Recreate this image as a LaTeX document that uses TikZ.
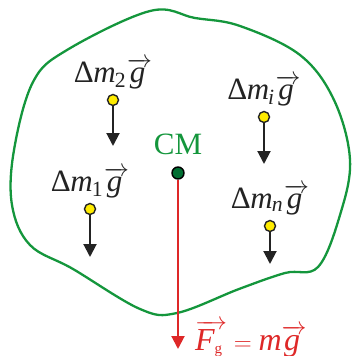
\documentclass[tikz,border=0pt]{standalone}
\usepackage{amsmath}
\usepackage{fontspec}
\setmainfont{Liberation Serif}
\usepackage{tikz}
\usetikzlibrary{positioning,arrows.meta}
\definecolor{bodygreen}{RGB}{20,150,60}
\definecolor{cmgreen}{RGB}{0,110,50}
\definecolor{forcered}{RGB}{222,40,40}
\definecolor{dotyellow}{RGB}{255,236,0}
\definecolor{textgray}{RGB}{35,35,35}
\newcommand{\dmlabel}[1]{Δ\kern-0.5pt\textit{m}\kern-1pt\textsubscript{#1}\kern1pt$\overrightarrow{\textit{g}\,}$}

\begin{document}
\begin{tikzpicture}[x=1pt,y=-1pt,every node/.style={font=\fontsize{31}{34}\selectfont}]
    \useasboundingbox (0,0) rectangle (352,356);
    \draw[bodygreen,line width=2.3pt] plot[smooth cycle,tension=0.6] coordinates {(150,11) (67,50) (33,82) (14,150) (12,205) (30,245) (73,269) (140,309) (177,313) (239,289) (285,273) (318,267) (340,215) (350,160) (334,100) (300,55) (240,26) (195,18)};
    \node[draw=textgray,fill=dotyellow,circle,inner sep=0pt,minimum size=11pt,line width=1.4pt] (m2) at (113,100) {};
    \node[draw=textgray,fill=dotyellow,circle,inner sep=0pt,minimum size=11pt,line width=1.4pt] (m1) at (90,209) {};
    \node[draw=textgray,fill=dotyellow,circle,inner sep=0pt,minimum size=11pt,line width=1.4pt] (mi) at (264,117) {};
    \node[draw=textgray,fill=dotyellow,circle,inner sep=0pt,minimum size=11pt,line width=1.4pt] (mn) at (270,226) {};
    \node[draw=black,fill=cmgreen,circle,inner sep=0pt,minimum size=12pt,line width=1.4pt] (cm) at (178,173) {};
    \node[textgray,inner sep=0pt,above=5pt of m2] (m2label) {\dmlabel{2}};
    \node[textgray,inner sep=0pt,above=5pt of m1] (m1label) {\dmlabel{1}};
    \node[textgray,inner sep=0pt,above=5pt of mi] (milabel) {\dmlabel{\textit{i}}};
    \node[textgray,inner sep=0pt,above=5pt of mn] (mnlabel) {\dmlabel{\textit{n}}};
    \node[bodygreen,inner sep=0pt,above=11pt of cm,font=\fontsize{31}{34}\selectfont] (cmlabel) {CM};
    \coordinate (m2tip) at (113,146);
    \coordinate (m1tip) at (90,257);
    \coordinate (mitip) at (264,164);
    \coordinate (mntip) at (270,264);
    \coordinate (ftip) at (178,349);
    \node[forcered,inner sep=0pt,anchor=base west,font=\fontsize{32}{34}\selectfont] (flabel) at (195,350) {$\overrightarrow{\textit{F}_{\textrm{\fontsize{15}{15}\selectfont g}}\,}=\textit{m}\overrightarrow{\textit{g}\,}$};
    \draw[-{Triangle[width=13pt,length=13pt]},textgray,line width=2pt] (m2) -- (m2tip);
    \draw[-{Triangle[width=13pt,length=13pt]},textgray,line width=2pt] (m1) -- (m1tip);
    \draw[-{Triangle[width=13pt,length=13pt]},textgray,line width=2pt] (mi) -- (mitip);
    \draw[-{Triangle[width=13pt,length=13pt]},textgray,line width=2pt] (mn) -- (mntip);
    \draw[-{Triangle[width=13pt,length=13pt]},forcered,line width=2pt] (cm) -- (ftip);
    \end{tikzpicture}
\end{document}
